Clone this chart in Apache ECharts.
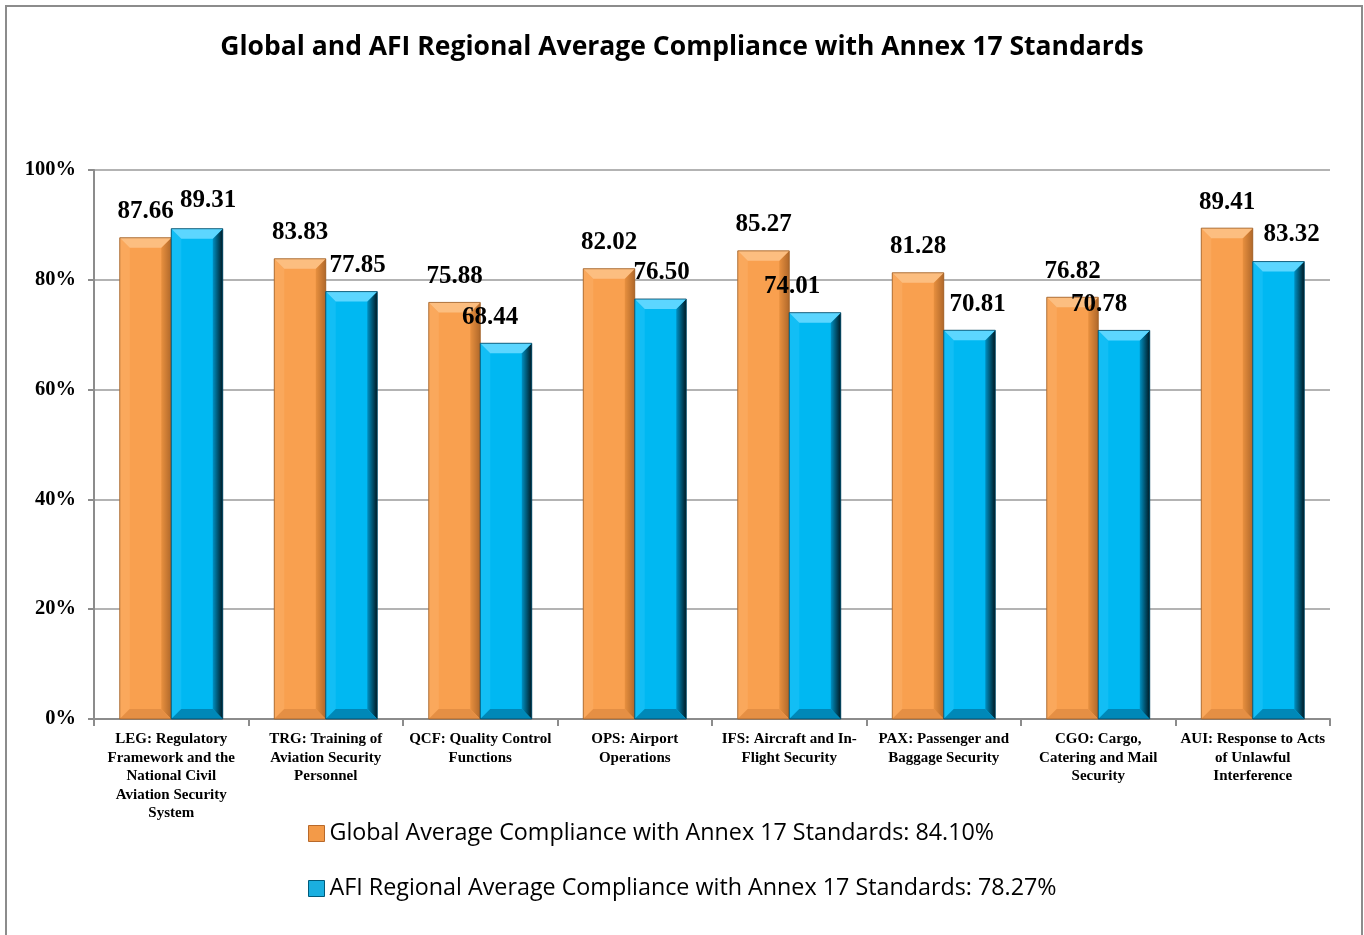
<!DOCTYPE html>
<html>
<head>
<meta charset="utf-8">
<script src="https://cdn.jsdelivr.net/npm/echarts@6/dist/echarts.min.js"></script>
<style>
html,body{margin:0;padding:0;background:#fff;}
#chart{width:1364px;height:935px;}
</style>
</head>
<body>
<div id="chart"></div>
<script>
const titleText = 'Global and AFI Regional Average Compliance with Annex 17 Standards';
const categories = [
  'LEG: Regulatory\nFramework and the\nNational Civil\nAviation Security\nSystem',
  'TRG: Training of\nAviation Security\nPersonnel',
  'QCF: Quality Control\nFunctions',
  'OPS: Airport\nOperations',
  'IFS: Aircraft and In-\nFlight Security',
  'PAX: Passenger and\nBaggage Security',
  'CGO: Cargo,\nCatering and Mail\nSecurity',
  'AUI: Response to Acts\nof Unlawful\nInterference'
];
const globalName = 'Global Average Compliance with Annex 17 Standards: 84.10%';
const afiName = 'AFI Regional Average Compliance with Annex 17 Standards: 78.27%';
const globalValues = [87.66, 83.83, 75.88, 82.02, 85.27, 81.28, 76.82, 89.41];
const afiValues = [89.31, 77.85, 68.44, 76.50, 74.01, 70.81, 70.78, 83.32];
const yTicks = { min: 0, max: 100, interval: 20 };

// layout tweak only: horizontal nudges (px) of the AFI value labels as placed in the original
const afiLabelShift = [11, 6, -16, 1, -23, 8, -25, 13];
const afiLabelRise = [28, 26, 26, 26, 26, 26, 26, 27];
const globalLabelShift = [0, 0, 0, 0, 0, 0, 0, 0];
const globalLabelRise = [26, 26, 26, 26, 26, 26, 26, 26];

const orangePal = {
  body: '#F9A04F', left: '#FAA85C', top: '#FCBE80', bottom: '#E58F44',
  rightA: '#E8903F', rightB: '#B0682A', edge: '#9A5E28'
};
const bluePal = {
  body: '#00B8F2', left: '#12BEF5', top: '#5CD6FF', bottom: '#0088B8',
  rightA: '#0090C2', rightB: '#001A24', edge: '#00435E'
};

function makeRender(side, pal, shifts, rises) {
  return function (params, api) {
    const ci = api.value(0), v = api.value(1);
    const p0 = api.coord([ci, 0]);
    const p1 = api.coord([ci, v]);
    const bw = api.size([1, 0])[0] / 3;
    const x0 = side < 0 ? p0[0] - bw : p0[0];
    const x1 = x0 + bw;
    const yt = p1[1], yb = p0[1];
    const b = 10;
    return {
      type: 'group',
      children: [
        { type: 'rect', shape: { x: x0, y: yt, width: bw, height: yb - yt }, style: { fill: pal.body } },
        { type: 'polygon', shape: { points: [[x0, yt], [x0 + b, yt + b], [x0 + b, yb - b], [x0, yb]] }, style: { fill: pal.left } },
        { type: 'polygon', shape: { points: [[x1, yt], [x1 - b, yt + b], [x1 - b, yb - b], [x1, yb]] },
          style: { fill: new echarts.graphic.LinearGradient(0, 0, 1, 0, [{ offset: 0, color: pal.rightA }, { offset: 1, color: pal.rightB }]) } },
        { type: 'polygon', shape: { points: [[x0, yt], [x1, yt], [x1 - b, yt + b], [x0 + b, yt + b]] }, style: { fill: pal.top } },
        { type: 'polygon', shape: { points: [[x0, yb], [x1, yb], [x1 - b, yb - b], [x0 + b, yb - b]] }, style: { fill: pal.bottom } },
        { type: 'rect', shape: { x: x0, y: yt, width: bw, height: yb - yt }, style: { fill: 'none', stroke: pal.edge, lineWidth: 0.8 } },
        { type: 'text', z2: 100, style: {
            x: (x0 + x1) / 2 + shifts[params.dataIndex], y: yt - rises[params.dataIndex], text: v.toFixed(2),
            align: 'center', verticalAlign: 'middle',
            font: 'bold 25px "Liberation Serif", "Times New Roman", serif', fill: '#000'
          } }
      ]
    };
  };
}

const chart = echarts.init(document.getElementById('chart'));
chart.setOption({
  animation: false,
  backgroundColor: '#fff',
  title: {
    text: titleText, left: 'center', top: 29,
    textStyle: { fontFamily: '"Open Sans", sans-serif', fontWeight: 'bold', fontSize: 26.5, color: '#000' }
  },
  graphic: [{
    type: 'rect', shape: { x: 6, y: 6, width: 1356, height: 960 },
    style: { fill: 'none', stroke: '#8C8C8C', lineWidth: 2 }, z: 100
  }],
  legend: {
    orient: 'vertical', left: 308, top: 822, itemGap: 32, itemWidth: 16, itemHeight: 16,
    padding: 0, icon: 'rect',
    textStyle: { fontFamily: '"Open Sans", sans-serif', fontSize: 23.3, color: '#000' },
    data: [
      { name: globalName, itemStyle: { color: '#F39A48', borderColor: '#B8692A', borderWidth: 1 } },
      { name: afiName, itemStyle: { color: '#1AAFE0', borderColor: '#005A7A', borderWidth: 1 } }
    ]
  },
  grid: { left: 94, right: 34, top: 170, bottom: 216, containLabel: false },
  xAxis: {
    type: 'category', data: categories,
    axisLine: { lineStyle: { color: '#8C8C8C', width: 2 } },
    axisTick: { show: true, length: 7, lineStyle: { color: '#8C8C8C', width: 2 } },
    axisLabel: {
      interval: 0, margin: 11, color: '#000', lineHeight: 18.5,
      fontFamily: '"Liberation Serif", "Times New Roman", serif', fontWeight: 'bold', fontSize: 15
    }
  },
  yAxis: {
    type: 'value', min: yTicks.min, max: yTicks.max, interval: yTicks.interval,
    axisLine: { show: true, lineStyle: { color: '#8C8C8C', width: 2 } },
    axisTick: { show: true, length: 6, lineStyle: { color: '#8C8C8C', width: 2 } },
    splitLine: { lineStyle: { color: '#9A9A9A', width: 1.5 } },
    axisLabel: {
      formatter: '{value}%', margin: 18, color: '#000',
      fontFamily: '"Liberation Serif", "Times New Roman", serif', fontWeight: 'bold', fontSize: 20.5
    }
  },
  series: [
    {
      name: globalName, type: 'custom', renderItem: makeRender(-1, orangePal, globalLabelShift, globalLabelRise),
      itemStyle: { color: '#F39A48' }, encode: { x: 0, y: 1 },
      data: globalValues.map((v, i) => [i, v])
    },
    {
      name: afiName, type: 'custom', renderItem: makeRender(1, bluePal, afiLabelShift, afiLabelRise),
      itemStyle: { color: '#1AAFE0' }, encode: { x: 0, y: 1 },
      data: afiValues.map((v, i) => [i, v])
    }
  ]
});
</script>
</body>
</html>
